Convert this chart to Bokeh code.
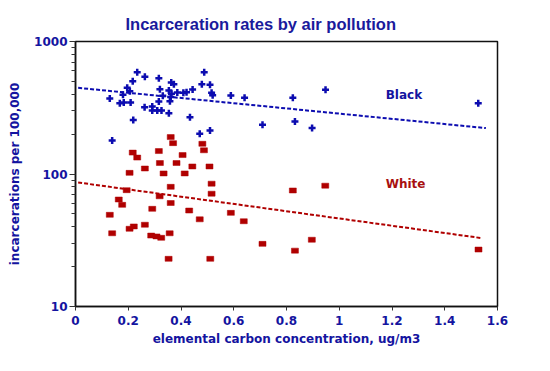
from bokeh.plotting import figure
from bokeh.models import FixedTicker, Range1d, ColumnDataSource
from bokeh.core.properties import value
from bokeh.embed import file_html
from bokeh.resources import INLINE

# ---- data ----
black_x = [0.234, 0.263, 0.316, 0.217, 0.363, 0.373, 0.488, 0.479, 0.510, 0.196,
           0.206, 0.180, 0.130, 0.320, 0.354, 0.364, 0.331, 0.386, 0.409, 0.421,
           0.444, 0.516, 0.520, 0.361, 0.358, 0.316, 0.168, 0.183, 0.209, 0.262,
           0.291, 0.291, 0.310, 0.326, 0.354, 0.434, 0.219, 0.471, 0.510, 0.139,
           0.589, 0.641, 0.824, 0.948, 0.709, 0.832, 0.897, 1.527]
black_y = [586, 541, 528, 502, 490, 476, 586, 476, 471, 447,
           422, 396, 371, 437, 427, 403, 389, 412, 410, 414,
           434, 410, 393, 382, 354, 353, 342, 346, 346, 319,
           323, 301, 301, 301, 288, 268, 256, 201, 213, 179,
           391, 376, 376, 432, 235, 249, 222, 342]

white_x = [0.361, 0.370, 0.481, 0.487, 0.217, 0.234, 0.316, 0.406, 0.320, 0.383,
           0.443, 0.508, 0.205, 0.263, 0.334, 0.414, 0.361, 0.516, 0.516, 0.194,
           0.164, 0.177, 0.319, 0.361, 0.291, 0.431, 0.471, 0.589, 0.638, 0.709,
           0.130, 0.139, 0.205, 0.221, 0.263, 0.287, 0.307, 0.325, 0.357, 0.353,
           0.511, 0.824, 0.947, 0.832, 0.896, 1.528]
white_y = [190, 171, 169, 151, 145, 133, 149, 139, 121, 121,
           114, 114, 102, 110, 101, 101, 80, 84.5, 71, 75.5,
           64.2, 58.5, 67.9, 60.4, 54.6, 53.0, 45.5, 50.9, 44.0, 29.7,
           49.2, 35.7, 38.6, 40.2, 41.4, 34.3, 33.8, 33.0, 35.7, 22.9,
           22.9, 75.1, 81.6, 26.4, 31.9, 26.9]

# fitted trend lines (end points)
black_trend_x = [0.01, 1.556]
black_trend_y = [447, 222]
white_trend_x = [0.01, 1.541]
white_trend_y = [86.3, 32.8]

x_ticks = [0, 0.2, 0.4, 0.6, 0.8, 1.0, 1.2, 1.4, 1.6]
x_tick_labels = ["0", "0.2", "0.4", "0.6", "0.8", "1", "1.2", "1.4", "1.6"]
y_ticks = [10, 100, 1000]
y_tick_labels = ["10", "100", "1000"]
y_minor = [20, 30, 40, 50, 60, 70, 80, 90, 200, 300, 400, 500, 600, 700, 800, 900]

group_labels = ["Black", "White"]
group_label_x = [1.176, 1.176]
group_label_y = [396, 84]

BLUE = "#0c0cb0"
TXT_BLUE = "#1414a0"
RED = "#b00000"
TXT_RED = "#a81010"
FONT = "DejaVu Sans"

p = figure(width=540, height=360, y_axis_type="log",
           x_range=Range1d(0, 1.6), y_range=Range1d(10, 1000),
           output_backend="svg", toolbar_location=None,
           min_border_left=75, min_border_right=43,
           min_border_top=41, min_border_bottom=54)

p.title.text = "Incarceration rates by air pollution"
p.title.text_font = "Liberation Sans"
p.title.text_font_size = "16.5px"
p.title.text_font_style = "bold"
p.title.text_color = "#1a1a9c"
p.title.align = "left"
p.title.offset = 50
p.title.standoff = 17

p.grid.visible = False
p.outline_line_color = "#111111"
p.outline_line_width = 1.5
p.background_fill_color = "white"
p.border_fill_color = "white"

# x axis
xa = p.xaxis[0]
xa.ticker = FixedTicker(ticks=x_ticks)
xa.major_label_overrides = {t: l for t, l in zip(x_ticks, x_tick_labels)}
xa.axis_label = "elemental carbon concentration, ug/m3"

# y axis
ya = p.yaxis[0]
ya.ticker = FixedTicker(ticks=y_ticks, minor_ticks=y_minor)
ya.major_label_overrides = {t: l for t, l in zip(y_ticks, y_tick_labels)}
ya.axis_label = "incarcerations per 100,000"

for ax in (xa, ya):
    ax.axis_line_color = "#111111"
    ax.axis_line_width = 1.5
    ax.major_tick_line_color = "#333333"
    ax.minor_tick_line_color = "#333333"
    ax.major_tick_in = 0
    ax.minor_tick_in = 0
    ax.major_label_text_font = FONT
    ax.major_label_text_font_style = "bold"
    ax.major_label_text_font_size = "12px"
    ax.major_label_text_color = TXT_BLUE
    ax.axis_label_text_font = FONT
    ax.axis_label_text_font_style = "bold"
    ax.axis_label_text_font_size = "12px"
    ax.axis_label_text_color = TXT_BLUE

xa.major_tick_out = 4
xa.minor_tick_out = 0
xa.major_label_standoff = 5
xa.axis_label_standoff = 4
ya.major_tick_out = 6
ya.minor_tick_out = 4
ya.major_label_standoff = 2
ya.axis_label_standoff = 9

# trend lines
p.line(black_trend_x, black_trend_y, line_color=BLUE, line_width=2, line_dash="4 2")
p.line(white_trend_x, white_trend_y, line_color=RED, line_width=2, line_dash="4 2")

# points
p.scatter(black_x, black_y, marker="cross", size=7, line_color=BLUE, line_width=2.5)
p.rect(white_x, white_y, width=7, height=5, width_units="screen", height_units="screen",
       fill_color=RED, line_color=RED, line_width=0.5)

# group labels
src = ColumnDataSource(dict(x=group_label_x, y=group_label_y, t=group_labels,
                            c=[TXT_BLUE, TXT_RED]))
p.text(x="x", y="y", text="t", source=src, text_color="c",
       text_font=value(FONT), text_font_style="bold", text_font_size="12px",
       text_align="left", text_baseline="middle")

open("out.html", "w").write(file_html(p, INLINE))
